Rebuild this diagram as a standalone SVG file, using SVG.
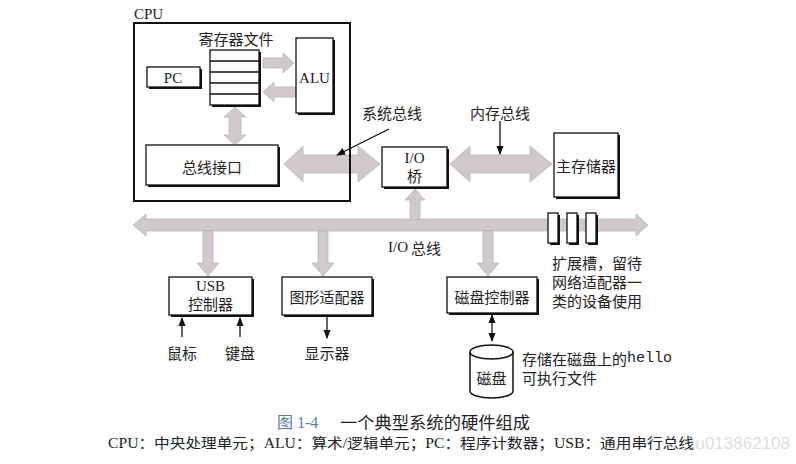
<svg xmlns="http://www.w3.org/2000/svg" width="796" height="464" viewBox="0 0 796 464">
<style>
.box{fill:#fff;stroke:#111;stroke-width:1.3}
.sh{fill:#111}
.ga{fill:#d2caca;stroke:#bdb4b4;stroke-width:0.8}
.cn{font-family:"Noto Sans CJK SC","Noto Sans",sans-serif;font-size:15px;fill:#222}
.lt{font-family:"Liberation Serif","Noto Sans CJK SC",serif;font-size:15px;fill:#222}
.mono{font-family:"Liberation Mono","DejaVu Sans Mono",monospace;font-size:15px;fill:#222}
.bl{stroke:#111;stroke-width:1.3;fill:none}
</style>
<defs>
<marker id="ah" viewBox="0 0 10 10" refX="9" refY="5" markerWidth="7" markerHeight="7" orient="auto-start-reverse">
<path d="M0,1 L10,5 L0,9 Z" fill="#111"/>
</marker>
</defs>
<rect width="796" height="464" fill="#fff"/>

<g id="connectors">
<polygon class="ga" points="263,58 283,58 283,53 294,63 283,73 283,68 263,68"/>
<polygon class="ga" points="296,87 274,87 274,82 263,92 274,102 274,97 296,97"/>
<polygon class="ga" points="235,107 246,117 241,117 241,135 246,135 235,145 224,135 229,135 229,117 224,117"/>
<polygon class="ga" points="284,164 303,146 303,155 358,155 358,146 380,164 358,182 358,173 303,173 303,182"/>
<polygon class="ga" points="450,164 470,146 470,155 530,155 530,146 552,164 530,182 530,173 470,173 470,182"/>
<polygon class="ga" points="133,225 146,214 146,219 636,219 636,214 648,225 636,236 636,231 146,231 146,236"/>
<polygon class="ga" points="415,189 425,200 420,200 420,220 410,220 410,200 405,200"/>
<polygon class="ga" points="203,231 213,231 213,263 219,263 208,276 197,263 203,263"/>
<polygon class="ga" points="318,231 328,231 328,263 334,263 323,276 312,263 318,263"/>
<polygon class="ga" points="483,231 493,231 493,263 499,263 488,276 477,263 483,263"/>
<line class="bl" x1="389" y1="129" x2="337" y2="155" marker-end="url(#ah)"/>
<line class="bl" x1="500" y1="121" x2="500" y2="154" marker-end="url(#ah)"/>
<line class="bl" x1="182" y1="337" x2="182" y2="318" marker-end="url(#ah)"/>
<line class="bl" x1="240" y1="337" x2="240" y2="318" marker-end="url(#ah)"/>
<line class="bl" x1="327" y1="317" x2="327" y2="338" marker-end="url(#ah)"/>
<line class="bl" x1="492" y1="315" x2="492" y2="341" marker-start="url(#ah)" marker-end="url(#ah)"/>
</g>

<g id="cpu">
<text class="lt" x="134" y="19" font-size="16">CPU</text>
<rect x="134" y="23" width="216" height="178" fill="none" stroke="#111" stroke-width="2"/>
</g>

<g id="regfile">
<text class="cn" x="236" y="38" text-anchor="middle" dominant-baseline="central">寄存器文件</text>
<rect class="sh" x="212" y="52" width="49" height="55"/>
<rect class="box" x="210" y="50" width="49" height="55"/>
<path class="bl" d="M210,61H259M210,72H259M210,83H259M210,94H259"/>
</g>

<g id="pc">
<rect class="sh" x="149" y="69" width="53" height="20"/>
<rect class="box" x="147" y="67" width="53" height="20"/>
<text class="lt" x="173" y="78" text-anchor="middle" dominant-baseline="central">PC</text>
</g>

<g id="alu">
<rect class="sh" x="298" y="40" width="37" height="75"/>
<rect class="box" x="296" y="38" width="37" height="75"/>
<text class="lt" x="314.5" y="78" text-anchor="middle" dominant-baseline="central">ALU</text>
</g>

<g id="businterface">
<rect class="sh" x="148" y="147" width="132" height="40"/>
<rect class="box" x="146" y="145" width="132" height="40"/>
<text class="cn" x="212" y="166" text-anchor="middle" dominant-baseline="central">总线接口</text>
</g>

<g id="sysbuslabel">
<text class="cn" x="392" y="112" text-anchor="middle" dominant-baseline="central">系统总线</text>
</g>
<g id="membuslabel">
<text class="cn" x="500" y="112" text-anchor="middle" dominant-baseline="central">内存总线</text>
</g>

<g id="iobridge">
<rect class="sh" x="384" y="149" width="65" height="40"/>
<rect class="box" x="382" y="147" width="65" height="40"/>
<text class="lt" x="414.5" y="158" text-anchor="middle" dominant-baseline="central">I/O</text>
<text class="cn" x="414.5" y="175" text-anchor="middle" dominant-baseline="central">桥</text>
</g>

<g id="mainmem">
<rect class="sh" x="556" y="135" width="64" height="64"/>
<rect class="box" x="554" y="133" width="64" height="64"/>
<text class="cn" x="586" y="165" text-anchor="middle" dominant-baseline="central">主存储器</text>
</g>

<g id="iobuslabel">
<text class="lt" x="388" y="247" dominant-baseline="central">I/O</text>
<text class="cn" x="411" y="247" dominant-baseline="central">总线</text>
</g>

<g id="slots">
<rect class="sh" x="550" y="215" width="10" height="30"/>
<rect class="box" x="548" y="213" width="10" height="30"/>
<rect class="sh" x="569" y="215" width="10" height="30"/>
<rect class="box" x="567" y="213" width="10" height="30"/>
<rect class="sh" x="588" y="215" width="10" height="30"/>
<rect class="box" x="586" y="213" width="10" height="30"/>
<text class="cn" dominant-baseline="central"><tspan x="552" y="262">扩展槽，留待</tspan><tspan x="552" y="281">网络适配器一</tspan><tspan x="552" y="300">类的设备使用</tspan></text>
</g>

<g id="usb">
<rect class="sh" x="171" y="279" width="83" height="38"/>
<rect class="box" x="169" y="277" width="83" height="38"/>
<text class="lt" x="210.5" y="286" text-anchor="middle" dominant-baseline="central">USB</text>
<text class="cn" x="210.5" y="303" text-anchor="middle" dominant-baseline="central">控制器</text>
</g>

<g id="graphics">
<rect class="sh" x="284" y="279" width="90" height="38"/>
<rect class="box" x="282" y="277" width="90" height="38"/>
<text class="cn" x="327" y="296" text-anchor="middle" dominant-baseline="central">图形适配器</text>
</g>

<g id="diskctrl">
<rect class="sh" x="449" y="279" width="90" height="36"/>
<rect class="box" x="447" y="277" width="90" height="36"/>
<text class="cn" x="492" y="296" text-anchor="middle" dominant-baseline="central">磁盘控制器</text>
</g>

<g id="mouse"><text class="cn" x="182" y="352" text-anchor="middle" dominant-baseline="central">鼠标</text></g>
<g id="keyboard"><text class="cn" x="240" y="352" text-anchor="middle" dominant-baseline="central">键盘</text></g>
<g id="display"><text class="cn" x="327" y="352" text-anchor="middle" dominant-baseline="central">显示器</text></g>

<g id="disk">
<path d="M470,352 L470,391 A21.5,7 0 0 0 513,391 L513,352" fill="#fff" stroke="#111" stroke-width="1.5"/>
<ellipse cx="491.5" cy="352" rx="21.5" ry="7" fill="#fff" stroke="#111" stroke-width="1.5"/>
<text class="cn" x="491.5" y="377" text-anchor="middle" dominant-baseline="central">磁盘</text>
<text class="cn" x="522" y="358" dominant-baseline="central">存储在磁盘上的<tspan class="mono">hello</tspan></text>
<text class="cn" x="522" y="377" dominant-baseline="central">可执行文件</text>
</g>

<g id="caption">
<text x="790" y="443" text-anchor="end" dominant-baseline="central" font-family="Liberation Sans, sans-serif" font-size="17" fill="#dedede">u013862108</text>
<text x="277" y="422" dominant-baseline="central" font-family="Liberation Serif, 'Noto Sans CJK SC', serif" font-size="16" fill="#5b7ca6">图 1-4</text>
<text x="340" y="422" dominant-baseline="central" font-family="'Noto Sans CJK SC', sans-serif" font-size="16.5" fill="#222" textLength="190" lengthAdjust="spacingAndGlyphs">一个典型系统的硬件组成</text>
<text x="108" y="443" dominant-baseline="central" font-family="Liberation Serif, 'Noto Sans CJK SC', serif" font-size="14" fill="#222" textLength="586" lengthAdjust="spacingAndGlyphs">CPU：中央处理单元；ALU：算术/逻辑单元；PC：程序计数器；USB：通用串行总线</text>
</g>
</svg>
